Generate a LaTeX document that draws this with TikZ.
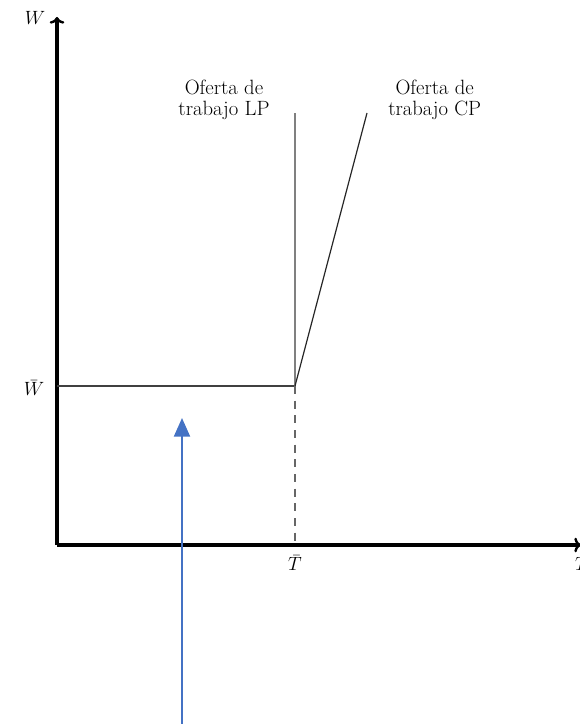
\documentclass[tikz,border=0pt]{standalone}
\usepackage{fontspec}
\usepackage{xcolor}
\usepackage{amsmath}
\usetikzlibrary{positioning,arrows,arrows.meta}
\definecolor{flecha}{HTML}{4472C4}
\tikzset{
  eje/.style={line width=2.6pt, -{To[length=5pt,width=11pt,line width=1.8pt]}},
  oferta/.style={align=center, font=\fontsize{15.5}{15.8}\selectfont, inner sep=0pt},
  etiq/.style={font=\fontsize{14.4}{16}\selectfont}
}

\begin{document}
\begin{tikzpicture}[x=0.75pt,y=-0.75pt]
\useasboundingbox (0,0) rectangle (580,724);
% ejes
\coordinate (O) at (57,545);
\coordinate (Wtop) at (57,17);
\coordinate (Tend) at (581,545);
\draw[eje] (O) -- (Wtop);
\draw[eje] (O) -- (Tend);
\node[etiq] (W) at (35,18) {$W$};
\node[etiq] (T) at (582,564) {$T$};
% salario y trabajo de equilibrio
\coordinate (Wb) at (57,386);
\coordinate (E) at (295,386);
\coordinate (Tb) at (295,545);
\node[etiq] (Wlab) at (34,388) {$\bar{W}$};
\node[etiq] (Tlab) at (295,563) {$\bar{T}$};
\draw[line width=1.5pt, black!75] (Wb) -- (E);
\draw[line width=0.9pt, black!60, dash pattern=on 6pt off 5pt] (E) -- (Tb);
% ofertas
\coordinate (LPtop) at (295,113);
\coordinate (CPtop) at (367,113);
\draw[line width=1pt, black!50] (E) -- (LPtop);
\draw[line width=0.9pt, black!85] (E) -- (CPtop);
\node[oferta] (LP) at (224,100) {Oferta de\\trabajo LP};
\node[oferta, anchor=west] (CP) at (388,100) {Oferta de\\trabajo CP};
% flecha azul
\coordinate (Fbase) at (182,726);
\coordinate (Fpunta) at (182,418);
\draw[flecha, line width=1.6pt, -{Triangle[length=14pt,width=12pt]}] (Fbase) -- (Fpunta);
\end{tikzpicture}
\end{document}
